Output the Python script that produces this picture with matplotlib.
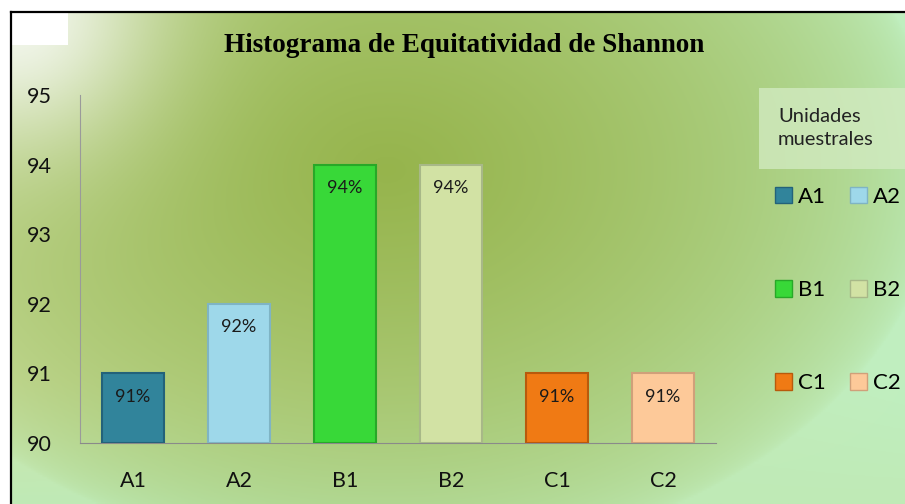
import numpy as np
import matplotlib.pyplot as plt
from matplotlib.patches import Patch, Rectangle
from matplotlib.colors import to_rgb

# %% Data
categories = ['A1', 'A2', 'B1', 'B2', 'C1', 'C2']
equitatividad = [91, 92, 94, 94, 91, 91]  # %
bar_labels = ['91%', '92%', '94%', '94%', '91%', '91%']
bar_colors = ['#31849b', '#9ed8ea', '#38d838', '#d2e2a4', '#f07a14', '#fdc999']
edge_colors = ['#23627a', '#7fb4c4', '#28a828', '#a8b888', '#b85a0c', '#d0a07a']
y_ticks = [90, 91, 92, 93, 94, 95]

title = 'Histograma de Equitatividad de Shannon'
legend_title = 'Unidades\nmuestrales'

plt.rcParams['font.family'] = ['Lato', 'DejaVu Sans']

W, H = 905, 504
fig = plt.figure(figsize=(W / 100, H / 100), dpi=100)
fig.patch.set_facecolor('white')

# %% background gradient (inside the black frame)
x0, y0 = 11 / W, 12 / H
bg = fig.add_axes([x0, 0, 1 - x0, 1 - y0], zorder=-5)
bg.set_axis_off()
nx, ny = 400, 220
X, Y = np.meshgrid(np.linspace(0, 1, nx), np.linspace(0, 1, ny))
light_l = np.array(to_rgb('#cfe4aa'))
light_r = np.array(to_rgb('#c0efc0'))
dark = np.array(to_rgb('#96b44c'))
light = light_l[None, None, :] * (1 - X[..., None]) + light_r[None, None, :] * X[..., None]
# bottom edge goes to light green
bottom = np.array(to_rgb('#bfeab6'))
bw = np.clip((Y - 0.75) / 0.25, 0, 1)[..., None]
light = light * (1 - bw) + bottom[None, None, :] * bw
d = np.sqrt(((X - 0.42) / 0.62) ** 2 + ((Y - 0.32) / 0.8) ** 2)
w = np.clip(1 - d, 0, 1) ** 0.55
img = light * (1 - w[..., None]) + dark[None, None, :] * w[..., None]
spot = np.exp(-((X / 0.16) ** 2 + (Y / 0.28) ** 2))
white = np.array(to_rgb('#f2f6ec'))
img = img * (1 - spot[..., None]) + white[None, None, :] * spot[..., None]
bg.imshow(img, aspect='auto', extent=[0, 1, 0, 1], origin='upper')
bg.set_xlim(0, 1)
bg.set_ylim(0, 1)

# frame lines and white box top-left
fig.add_artist(plt.Line2D([x0, 1], [1 - y0, 1 - y0], color='black', lw=1.6))
fig.add_artist(plt.Line2D([x0, x0], [0, 1 - y0], color='black', lw=1.6))
fig.add_artist(Rectangle((x0 + 1 / W, 1 - 45 / H), 56 / W, 32 / H,
                         transform=fig.transFigure, facecolor='white',
                         edgecolor='none'))

# %% main axes
ax = fig.add_axes([80 / W, 61 / H, 636 / W, 348 / H])
ax.patch.set_alpha(0)
x = np.arange(len(categories))
ax.bar(x, np.array(equitatividad) - 90, bottom=90, width=0.58,
       color=bar_colors, edgecolor=edge_colors, linewidth=1.5, zorder=3)
for xi, v, lab in zip(x, equitatividad, bar_labels):
    ax.text(xi, v - 0.34, lab, ha='center', va='center', fontsize=13,
            color='#1a1a1a', zorder=4)

ax.set_xlim(-0.5, len(categories) - 0.5)
ax.set_ylim(90, 95)
ax.set_yticks(y_ticks)
ax.set_xticks(x)
ax.set_xticklabels(categories)
ax.tick_params(axis='both', length=0, labelsize=15.5, colors='#111111')
ax.tick_params(axis='y', pad=20)
ax.tick_params(axis='x', pad=20)
for s in ['top', 'right']:
    ax.spines[s].set_visible(False)
ax.spines['left'].set_color('#9a9a9a')
ax.spines['bottom'].set_color('#8a8a8a')

fig.text(464 / W, 1 - 46 / H, title, ha='center', va='center',
         fontsize=19.5, fontweight='bold', family='Liberation Serif')

# %% legend
fig.add_artist(Rectangle((759 / W, 1 - 169 / H), 146 / W, 81 / H,
                         transform=fig.transFigure, facecolor='#d4ecc4',
                         edgecolor='none', alpha=0.75))
fig.text(778 / W, 1 - 128 / H, legend_title, ha='left', va='center',
         fontsize=14.5, color='#222222', linespacing=1.45)

order = [0, 2, 4, 1, 3, 5]
handles = [Patch(facecolor=bar_colors[i], edgecolor=edge_colors[i], lw=1)
           for i in order]
labels = [categories[i] for i in order]
fig.legend(handles, labels, ncol=2, loc='upper left',
           bbox_to_anchor=(775 / W, 1 - 187 / H), frameon=False,
           fontsize=16, handlelength=0.75, handleheight=0.75,
           handletextpad=0.28, columnspacing=1.1, labelspacing=3.29,
           borderpad=0, borderaxespad=0)

fig.savefig('out.png', dpi=100)
